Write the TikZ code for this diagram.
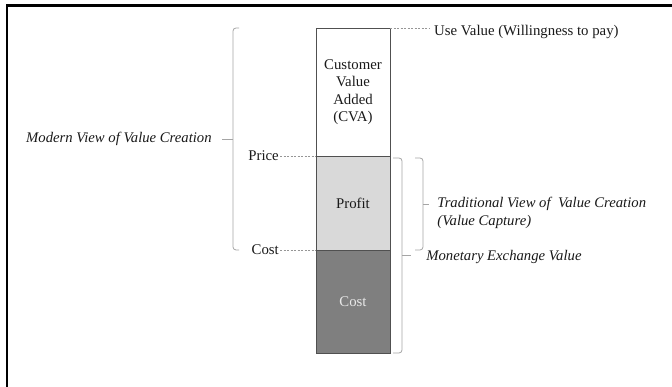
\documentclass[tikz,border=0pt]{standalone}
\usepackage{fontspec}
\setmainfont{Liberation Serif}
\usetikzlibrary{positioning,calc}
\definecolor{txtclr}{RGB}{25,25,25}
\definecolor{bdrclr}{RGB}{80,80,80}
\definecolor{proffill}{RGB}{217,217,217}
\definecolor{costfill}{RGB}{127,127,127}
\definecolor{costtxt}{RGB}{232,232,232}
\definecolor{guideclr}{RGB}{150,150,150}
\definecolor{braceclr}{RGB}{165,165,165}
\tikzset{
  %% bar segment
  seg/.style={rectangle,draw=bdrclr,line width=0.8pt,minimum width=74pt,
    inner sep=0pt,outer sep=0pt,font=\fontsize{14.8}{17.5}\selectfont,
    align=center,text=txtclr},
  %% plain label
  lbl/.style={font=\fontsize{14.8}{17.5}\selectfont,text=txtclr,inner sep=1pt},
  %% italic label
  ilbl/.style={font=\fontsize{14.7}{18}\selectfont\itshape,text=txtclr,
    inner sep=1pt,align=left},
  %% dashed guide line
  guide/.style={dash pattern=on 2pt off 1.5pt,line width=0.6pt,color=guideclr},
  %% square brace
  brk/.style={draw=braceclr,line width=0.8pt,rounded corners=3pt},
  %% outer frame
  frm/.style={line width=2.3pt,color=black},
}
\begin{document}
\begin{tikzpicture}[x=1pt,y=1pt]
  \useasboundingbox (0,0) rectangle (672,387);

  %% frame (left and top edges)
  \draw[frm] (7,0) -- (7,381.5) -- (672,381.5);

  %% stacked bar
  \node[seg,minimum height=128pt] (cva) at (353,295)
    {Customer\\Value\\Added\\(CVA)};
  \node[seg,fill=proffill,minimum height=94pt,below=0pt of cva] (profit) {Profit};
  \node[seg,fill=costfill,text=costtxt,minimum height=103pt,below=0pt of profit]
    (costbox) {Cost};

  %% level labels
  \node[lbl,left=36pt of profit.north west] (price) {Price};
  \node[lbl,left=36pt of costbox.north west] (costlbl) {Cost};
  \node[lbl,anchor=west] (useval) at ([xshift=43pt,yshift=-4pt]cva.north east)
    {Use Value (Willingness to pay)};

  %% guides
  \draw[guide] (price.east) -- (profit.north west);
  \draw[guide] (costlbl.east) -- (costbox.north west);
  \draw[guide,shorten >=4pt] (cva.north east) -- (useval.west |- cva.north east);

  %% left brace: modern view
  \draw[brk] ([xshift=-77pt]cva.north west) -- ++(-6,0)
    -- ([xshift=-83pt]costbox.north west) -- ++(6,0);
  \draw[brk] ($([xshift=-83pt]cva.north west)!.5!([xshift=-83pt]costbox.north west)$)
    -- ++(-11,0) node[left=9pt,ilbl] (modern) {Modern View of Value Creation};

  %% right brace: monetary exchange value
  \draw[brk] ([xshift=3pt,yshift=-2pt]profit.north east) -- ++(9,0)
    -- ([xshift=12pt]costbox.south east) -- ++(-9,0);
  \draw[brk] ($([xshift=12pt,yshift=-2pt]profit.north east)!.5!([xshift=12pt]costbox.south east)$)
    -- ++(9,0) node[right=14pt,yshift=-1.5pt,ilbl] (monetary) {Monetary Exchange Value};

  %% right brace: traditional view
  \draw[brk] ([xshift=25pt,yshift=-2pt]profit.north east) -- ++(8,0)
    -- ([xshift=33pt]profit.south east) -- ++(-8,0);
  \draw[brk] ($([xshift=33pt,yshift=-2pt]profit.north east)!.5!([xshift=33pt]profit.south east)$)
    -- ++(6,0) node[right=7pt,yshift=-9pt,ilbl] (trad)
    {Traditional View of\ \ Value Creation\\(Value Capture)};

\end{tikzpicture}
\end{document}
